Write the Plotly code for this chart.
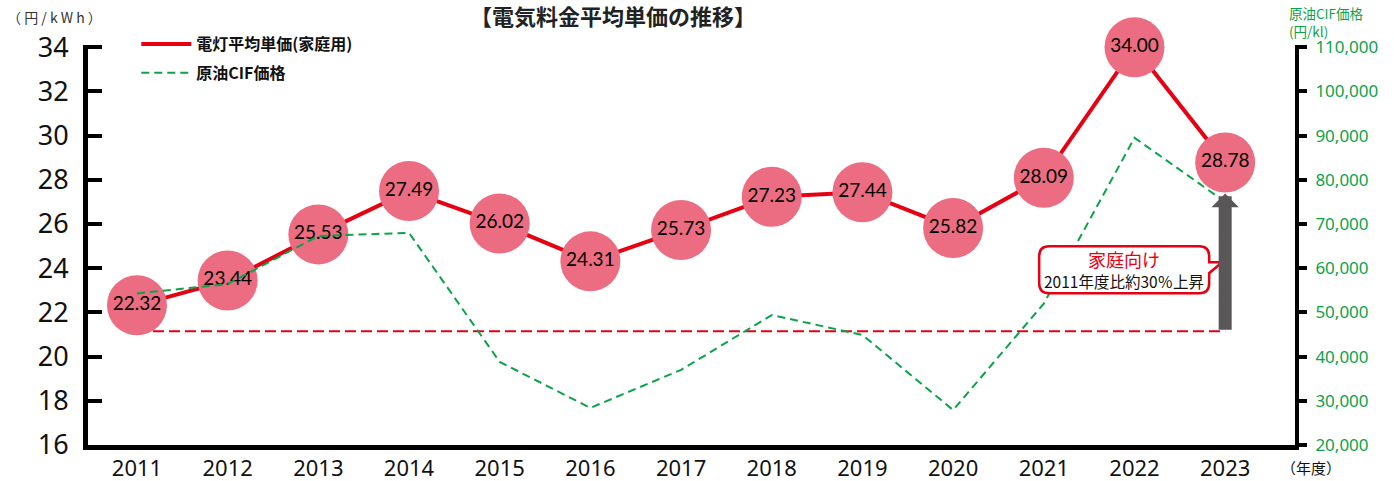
import plotly.graph_objects as go

# ---- data ----
years = [2011, 2012, 2013, 2014, 2015, 2016, 2017, 2018, 2019, 2020, 2021, 2022, 2023]
price = [22.32, 23.44, 25.53, 27.49, 26.02, 24.31, 25.73, 27.23, 27.44, 25.82, 28.09, 34.00, 28.78]
price_labels = ["22.32", "23.44", "25.53", "27.49", "26.02", "24.31", "25.73", "27.23", "27.44", "25.82", "28.09", "34.00", "28.78"]
oil_cif = [54300, 56400, 67300, 68000, 38800, 28400, 37000, 49400, 44900, 27900, 52000, 89500, 75000]
left_ticks = [16, 18, 20, 22, 24, 26, 28, 30, 32, 34]
right_ticks = [20000, 30000, 40000, 50000, 60000, 70000, 80000, 90000, 100000, 110000]
right_tick_text = ["20,000", "30,000", "40,000", "50,000", "60,000", "70,000", "80,000", "90,000", "100,000", "110,000"]

# ---- styles ----
RED = "#E60012"
PINK = "#EC6D81"
GREEN = "#0DA24A"
GRAY = "#595757"
JP = "Noto Sans CJK JP"
NUM = "Noto Sans"
baseline_level = 21.15      # reference (2011 level) dashed line
marker_d = 60

fig = go.Figure()

fig.add_trace(go.Scatter(
    x=years, y=oil_cif, yaxis="y2", mode="lines", name="原油CIF価格",
    line=dict(color=GREEN, width=2, dash="8px,5px"),
    legendrank=2, legendgroup="b", hoverinfo="skip"))

fig.add_trace(go.Scatter(
    x=years, y=price, mode="lines", name="電灯平均単価(家庭用)",
    line=dict(color=RED, width=4), legendrank=1, legendgroup="a",
    cliponaxis=False, hoverinfo="skip"))

fig.add_trace(go.Scatter(
    x=years, y=price, mode="markers+text", showlegend=False,
    marker=dict(size=marker_d, color=PINK, line=dict(width=0)),
    text=price_labels, textposition="middle center",
    textfont=dict(family="Lato", size=19, color="#000"),
    cliponaxis=False, hoverinfo="skip"))

# dashed 2011-level reference line
fig.add_shape(type="line", xref="x", yref="y", x0=years[0], x1=years[-1],
              y0=baseline_level, y1=baseline_level, layer="below",
              line=dict(color=RED, width=2, dash="11px,5px"))

# gray up arrow from the reference line to the 2023 circle
fig.add_annotation(x=years[-1], y=price[-1], ax=years[-1], ay=baseline_level,
                   xref="x", yref="y", axref="x", ayref="y", text="",
                   showarrow=True, arrowhead=1, arrowsize=0.35, arrowwidth=13,
                   arrowcolor=GRAY, standoff=marker_d / 2 + 1)

# callout box (pixel-sized, anchored at the arrow base)
cb = dict(l=-186, r=-16, t=85, b=38, rad=10)
path = (f"M {cb['l']+cb['rad']},{cb['t']} L {cb['r']-cb['rad']},{cb['t']} "
        f"Q {cb['r']},{cb['t']} {cb['r']},{cb['t']-cb['rad']} "
        f"L {cb['r']},69 L -3,69 L {cb['r']},58 "
        f"L {cb['r']},{cb['b']+cb['rad']} Q {cb['r']},{cb['b']} {cb['r']-cb['rad']},{cb['b']} "
        f"L {cb['l']+cb['rad']},{cb['b']} Q {cb['l']},{cb['b']} {cb['l']},{cb['b']+cb['rad']} "
        f"L {cb['l']},{cb['t']-cb['rad']} Q {cb['l']},{cb['t']} {cb['l']+cb['rad']},{cb['t']} Z")
fig.add_shape(type="path", path=path, xref="x", yref="y",
              xsizemode="pixel", ysizemode="pixel",
              xanchor=years[-1], yanchor=baseline_level,
              fillcolor="white", line=dict(color=RED, width=2.5))
fig.add_annotation(x=years[-1], y=baseline_level, xref="x", yref="y",
                   xshift=-101, yshift=72, showarrow=False, text="家庭向け",
                   font=dict(family=JP, size=18, color=RED))
fig.add_annotation(x=years[-1], y=baseline_level, xref="x", yref="y",
                   xshift=-101, yshift=50, showarrow=False, text="2011年度比約30％上昇",
                   font=dict(family=JP, size=15.5, color="#111"))

# titles / unit labels
fig.add_annotation(x=0.435, y=1.075, xref="paper", yref="paper", showarrow=False,
                   text="<b>【電気料金平均単価の推移】</b>", yanchor="middle",
                   font=dict(family=JP, size=22, color="#222"))
fig.add_annotation(x=-0.069, y=1.07, xref="paper", yref="paper", showarrow=False,
                   text="（ 円 / k W h ）", xanchor="left", yanchor="middle",
                   font=dict(family=JP, size=14, color="#333"))
fig.add_annotation(x=0.9934, y=1.11, xref="paper", yref="paper", showarrow=False,
                   text="原油CIF価格<br>(円/kl)", xanchor="left", yanchor="top", align="left",
                   font=dict(family=JP, size=13.5, color=GREEN))
fig.add_annotation(x=0.9868, y=-0.055, xref="paper", yref="paper", showarrow=False,
                   text="（年度）", xanchor="left", yanchor="middle",
                   font=dict(family=JP, size=15, color="#111"))

fig.update_layout(
    width=1394, height=481,
    margin=dict(l=88, r=99, t=45, b=36, autoexpand=False),
    paper_bgcolor="white", plot_bgcolor="white",
    showlegend=True,
    legend=dict(x=0.04, y=1.045, xanchor="left", yanchor="top",
                bgcolor="rgba(0,0,0,0)", borderwidth=0, tracegroupgap=5,
                itemwidth=50,
                font=dict(family=JP, size=16, color="#111", weight="bold")),
    xaxis=dict(range=[years[0] - 0.54, years[-1] + 0.77], tickvals=years,
               ticktext=[str(y) for y in years], showgrid=False, zeroline=False,
               showline=True, linecolor="black", linewidth=5, ticks="",
               tickfont=dict(family=NUM, size=22, color="#111")),
    yaxis=dict(range=[16, 34.1], tickvals=left_ticks, showgrid=False, zeroline=False,
               showline=True, linecolor="black", linewidth=5,
               ticks="inside", ticklen=14, tickwidth=4, tickcolor="black",
               ticklabelstandoff=9,
               tickfont=dict(family=NUM, size=27, color="#111")),
    yaxis2=dict(range=[20000, 110500], overlaying="y", side="right", anchor="x",
                tickvals=right_ticks, ticktext=right_tick_text,
                showgrid=False, zeroline=False, showline=True, linecolor="black",
                linewidth=4, ticks="outside", ticklen=8, tickwidth=4, tickcolor="black",
                ticklabelstandoff=5,
                tickfont=dict(family=NUM, size=17, color=GREEN)),
)

# remove the default page margin so the figure fills the window exactly
fig.write_html("out.html",
               config={"displayModeBar": False},
               post_script="document.body.style.margin='0';document.body.style.overflow='hidden';")
